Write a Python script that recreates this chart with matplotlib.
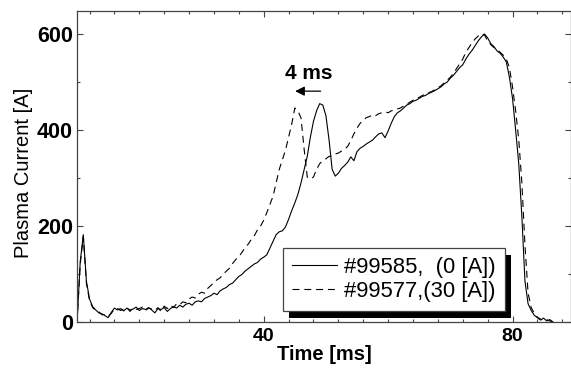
# -*- coding: utf-8 -*-
""" Plasma current traces for two shots (0 A and 30 A). """
import matplotlib
matplotlib.use("Agg")
from matplotlib import pyplot as plt
from matplotlib.patches import Rectangle
from matplotlib.ticker import MultipleLocator
import numpy as np

# time grid [ms], 0.5 ms sampling of the traces
time_ms = np.arange(10.0, 86.75, 0.5)

# shot #99585, 0 [A]  (solid)
shot_99585 = [
    0, 125, 182, 85, 48, 32, 25, 19, 17, 13,
    9, 20, 29, 25, 28, 23, 29, 25, 27, 31,
    24, 28, 26, 30, 25, 19, 28, 26, 30, 22,
    28, 32, 29, 35, 31, 37, 39, 35, 42, 44,
    42, 49, 52, 55, 60, 57, 65, 69, 72, 78,
    81, 88, 95, 99, 106, 111, 116, 121, 124, 131,
    135, 140, 154, 168, 182, 188, 190, 198, 214, 232,
    248, 266, 290, 318, 345, 385, 418, 440, 455, 452,
    430, 380, 318, 304, 310, 320, 326, 333, 344, 336,
    355, 362, 366, 371, 375, 379, 386, 392, 394, 384,
    398, 414, 428, 436, 440, 446, 452, 455, 460, 462,
    466, 470, 472, 476, 479, 482, 486, 490, 496, 500,
    508, 514, 522, 530, 536, 548, 558, 566, 576, 586,
    594, 600, 592, 580, 574, 565, 560, 552, 542, 510,
    466, 400, 330, 220, 85, 38, 24, 14, 9, 4,
    8, 2, 5, 0,
]

# shot #99577, 30 [A]  (dashed)
shot_99577 = [
    0, 120, 178, 80, 45, 30, 24, 21, 15, 16,
    12, 18, 27, 28, 24, 27, 30, 22, 29, 26,
    28, 31, 24, 29, 27, 24, 30, 22, 33, 28,
    35, 30, 38, 36, 42, 40, 48, 52, 50, 58,
    62, 60, 70, 76, 82, 88, 92, 100, 106, 112,
    122, 130, 136, 145, 155, 162, 172, 180, 192, 200,
    212, 228, 245, 262, 290, 318, 338, 358, 385, 412,
    446, 440, 425, 360, 302, 298, 302, 318, 330, 336,
    340, 345, 346, 350, 352, 356, 360, 366, 378, 392,
    404, 414, 420, 426, 428, 432, 430, 434, 436, 438,
    436, 440, 442, 444, 446, 450, 454, 458, 462, 466,
    468, 472, 474, 478, 480, 484, 488, 492, 498, 504,
    510, 518, 528, 538, 548, 562, 572, 582, 590, 596,
    601, 598, 586, 578, 572, 568, 562, 556, 548, 530,
    490, 440, 380, 290, 160, 60, 30, 18, 10, 6,
    3, 5, 2, 0,
]

labels = ["#99585,  (0 [A])", "#99577,(30 [A])"]
x_ticks = [40, 80]
y_ticks = [0, 200, 400, 600]

plt.rcParams['font.family'] = ['Liberation Sans', 'DejaVu Sans']
plt.rcParams['lines.scale_dashes'] = False

fig = plt.figure(figsize=(5.71, 3.69), dpi=100)
ax = fig.add_axes([0.135, 0.1274, 0.865, 0.8428])

ax.plot(time_ms, shot_99585, color="black", lw=0.8, label=labels[0])
ax.plot(time_ms, shot_99577, color="black", lw=0.8, dashes=(5, 3.5),
        label=labels[1])

ax.set_xlim(10, 89.4)
ax.set_ylim(0, 648)
ax.set_xticks(x_ticks)
ax.set_yticks(y_ticks)
ax.xaxis.set_minor_locator(MultipleLocator(4))
ax.yaxis.set_minor_locator(MultipleLocator(100))
ax.tick_params(which="both", direction="in", top=True, right=True,
               color="#444444", width=0.8)
ax.tick_params(which="major", length=4.5)
ax.tick_params(which="minor", length=2.2)
ax.tick_params(axis="x", pad=4, labelsize=14)
ax.tick_params(axis="y", pad=3, labelsize=15.5)
for lab in ax.get_xticklabels() + ax.get_yticklabels():
    lab.set_fontweight("bold")
for sp in ax.spines.values():
    sp.set_color("#444444")
    sp.set_linewidth(0.9)

ax.set_xlabel("Time [ms]", fontsize=14.5, fontweight="bold", labelpad=0)
ax.set_ylabel("Plasma Current [A]", fontsize=14.5)
ax.yaxis.set_label_coords(-0.089, 0.479)

# 4 ms shift arrow
ax.annotate("", xy=(44.6, 481), xytext=(49.6, 481),
            arrowprops=dict(arrowstyle="-|>", color="black", lw=0.9,
                            mutation_scale=14))
ax.text(47.2, 518, "4 ms", ha="center", va="center", fontsize=15,
        fontweight="bold")

leg = ax.legend(loc="upper right", bbox_to_anchor=(0.866, 0.238),
                borderaxespad=0, fontsize=15.8, fancybox=False,
                handlelength=2.05, handletextpad=0.35, labelspacing=0.15,
                borderpad=0.4, framealpha=1)
leg.get_frame().set_edgecolor("#444444")
leg.get_frame().set_linewidth(0.9)

# black drop shadow under the legend box
fig.canvas.draw()
bb = leg.get_frame().get_window_extent()
ax.add_patch(Rectangle((bb.x0 + 6, bb.y0 - 7), bb.width, bb.height,
                       transform=None, facecolor="black", edgecolor="none",
                       clip_on=False, zorder=4.9))

fig.savefig("out.png", dpi=100)
